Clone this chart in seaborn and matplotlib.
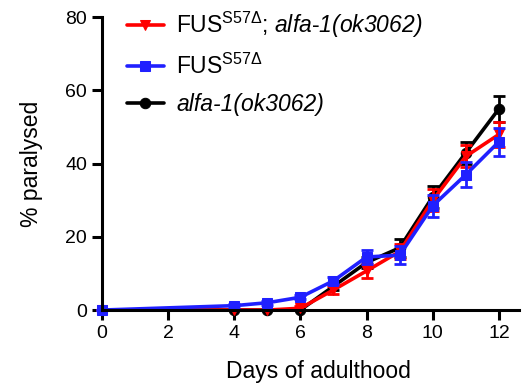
import pandas as pd
import numpy as np
import matplotlib
matplotlib.use("Agg")
import matplotlib.pyplot as plt
import seaborn as sns

# data
days = [0, 4, 5, 6, 7, 8, 9, 10, 11, 12]

double_mean = [0, 0, 0, 0.5, 5.5, 10.7, 16, 30, 42, 48]
double_err = [0, 0, 0, 0.5, 1, 2, 2, 3, 3, 3.5]

fus_mean = [0, 1.2, 2, 3.5, 8, 14.5, 15, 28.5, 37, 46]
fus_err = [0, 0.5, 0.5, 0.5, 1, 2, 2.5, 3, 3.5, 3.8]

alfa_mean = [0, 0, 0, 0, 6.5, 13, 17, 31, 43, 55]
alfa_err = [0, 0, 0, 0, 1, 1.5, 2.5, 3, 3, 3.5]

labels = ["FUS$^{\\mathrm{S57\\Delta}}$; $\\mathsf{alfa}$-$\\mathsf{1(ok3062)}$",
          "FUS$^{\\mathrm{S57\\Delta}}$",
          "alfa-1(ok3062)"]

sns.set_style("ticks")
plt.rcParams["font.family"] = ["Liberation Sans", "DejaVu Sans"]
plt.rcParams["mathtext.fontset"] = "custom"
plt.rcParams["mathtext.rm"] = "Liberation Sans"
plt.rcParams["mathtext.sf"] = "Liberation Sans:italic"
plt.rcParams["text.color"] = "black"
plt.rcParams["axes.labelcolor"] = "black"
plt.rcParams["xtick.color"] = "black"
plt.rcParams["ytick.color"] = "black"

df = pd.DataFrame({
    "day": days * 3,
    "value": alfa_mean + double_mean + fus_mean,
    "err": alfa_err + double_err + fus_err,
    "group": [labels[2]] * len(days) + [labels[0]] * len(days) + [labels[1]] * len(days),
})

fig = plt.figure(figsize=(5.3, 3.91), dpi=100)
ax = fig.add_axes([0.192, 0.207, 0.787, 0.749])

# draw order: black, red, blue (blue on top)
styles = [(labels[2], "black", "o"), (labels[0], "red", "v"), (labels[1], "#2020ff", "s")]
for lab, col, mk in styles:
    sub = df[df["group"] == lab]
    ax.errorbar(sub["day"], sub["value"], yerr=sub["err"], fmt="none",
                ecolor=col, elinewidth=2, capsize=4, capthick=2, clip_on=False)
    sns.lineplot(data=sub, x="day", y="value", color=col, marker=mk,
                 markersize=7.5, markeredgecolor=col, linewidth=2.6,
                 ax=ax, label=lab, clip_on=False)

ax.set_xlim(0, 12.6)
ax.set_ylim(0, 80)
ax.set_xticks(range(0, 13, 2))
ax.set_yticks(range(0, 81, 20))
ax.set_xlabel("Days of adulthood", fontsize=16.5, labelpad=12)
ax.xaxis.set_label_coords(0.519, -0.17)
ax.set_ylabel("% paralysed", fontsize=16.5, labelpad=16)
ax.tick_params(labelsize=14, width=2.2, length=7, color="black")
for s in ["left", "bottom"]:
    ax.spines[s].set_linewidth(2.2)
    ax.spines[s].set_color("black")
sns.despine(ax=ax)

handles, labs = ax.get_legend_handles_labels()
order = [labs.index(l) for l in labels]
leg = ax.legend([handles[i] for i in order], [labs[i] for i in order],
                loc="upper left", bbox_to_anchor=(127 / 530, 1 - 10 / 391),
                bbox_transform=fig.transFigure, frameon=False, fontsize=16.5,
                borderpad=0, borderaxespad=0, labelspacing=0.6,
                handlelength=1.6, handletextpad=0.55)
leg.get_texts()[2].set_style("italic")

fig.savefig("out.png", dpi=100)
